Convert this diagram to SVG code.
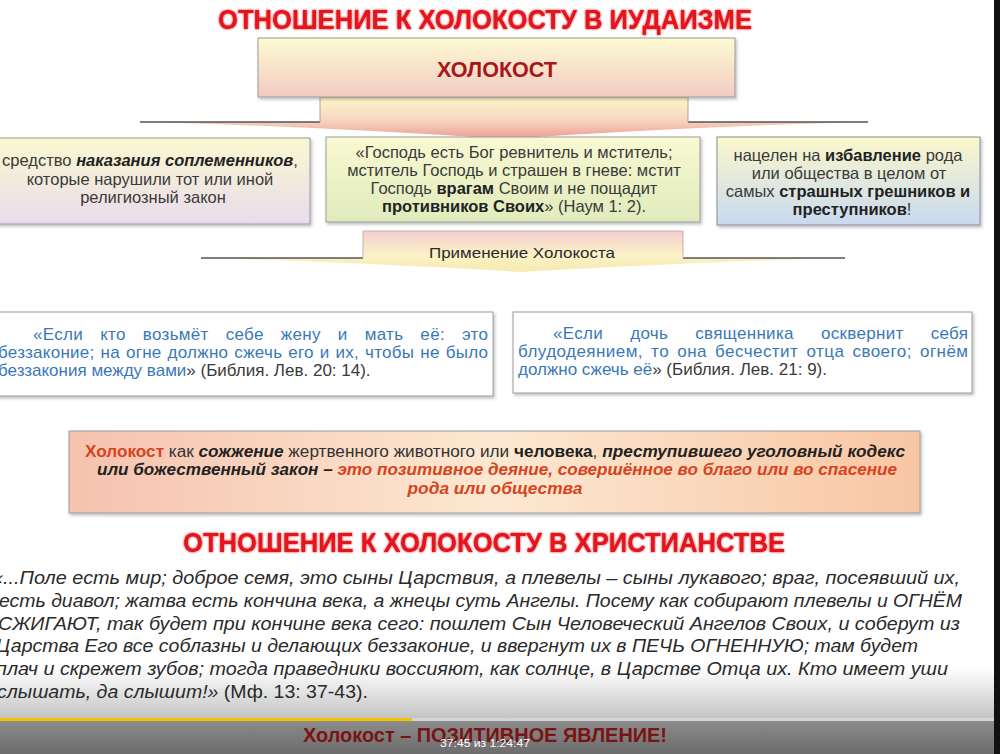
<svg xmlns="http://www.w3.org/2000/svg" width="1000" height="754" viewBox="0 0 1000 754">
<style>
  .ttl{font-family:"Liberation Sans",Arial,sans-serif;font-weight:bold;fill:#e3121b;text-anchor:middle}
  .bx{font-family:"Liberation Sans",Arial,sans-serif;font-size:16.5px;fill:#3a3a3a;text-anchor:middle}
  .b{font-weight:bold;fill:#222}
  .bi{font-weight:bold;font-style:italic;fill:#222}
  .q{font-family:"Liberation Sans",Arial,sans-serif;font-size:17px;fill:#3a78b8}
  .g{fill:#3a3a3a}
  .or{font-family:"Liberation Sans",Arial,sans-serif;font-size:16px;fill:#333;text-anchor:middle}
  .red{fill:#d8431c}
  .p{font-family:"Liberation Sans",Arial,sans-serif;font-size:18px;font-style:italic;fill:#2a2a2a}
  .frame{stroke:#9a9a9a;stroke-width:1}
  .sh{stroke:#555;stroke-width:1.6;fill:none}
</style>
<defs>
  <filter id="shadow" x="-5%" y="-10%" width="110%" height="130%">
    <feDropShadow dx="1.5" dy="2" stdDeviation="1.5" flood-color="#000" flood-opacity="0.25"/>
  </filter>
  <filter id="glow" x="-5%" y="-20%" width="110%" height="140%">
    <feGaussianBlur in="SourceGraphic" stdDeviation="1.2" result="b"/>
    <feMerge><feMergeNode in="b"/><feMergeNode in="SourceGraphic"/></feMerge>
  </filter>
  <linearGradient id="gHolo" x1="0" y1="0" x2="0" y2="1">
    <stop offset="0" stop-color="#fdfbd2"/><stop offset="1" stop-color="#f2cac2"/>
  </linearGradient>
  <linearGradient id="gArr1" x1="0" y1="97" x2="0" y2="139" gradientUnits="userSpaceOnUse">
    <stop offset="0" stop-color="#fdf7c8"/><stop offset="0.55" stop-color="#f7d6be"/><stop offset="1" stop-color="#ec9c94"/>
  </linearGradient>
  <linearGradient id="gArr2" x1="0" y1="231" x2="0" y2="272" gradientUnits="userSpaceOnUse">
    <stop offset="0" stop-color="#f4cfcf"/><stop offset="0.6" stop-color="#fbf2c6"/><stop offset="1" stop-color="#f6eab0"/>
  </linearGradient>
  <linearGradient id="gB1" x1="0" y1="0" x2="0" y2="1">
    <stop offset="0" stop-color="#fbf8d0"/><stop offset="1" stop-color="#e8dcec"/>
  </linearGradient>
  <linearGradient id="gB2" x1="0" y1="0" x2="0" y2="1">
    <stop offset="0" stop-color="#f9f9d2"/><stop offset="1" stop-color="#e0ebbc"/>
  </linearGradient>
  <linearGradient id="gB3" x1="0" y1="0" x2="0" y2="1">
    <stop offset="0" stop-color="#fbf8cc"/><stop offset="1" stop-color="#c9d9ef"/>
  </linearGradient>
  <linearGradient id="gOr" x1="0" y1="0" x2="1" y2="0">
    <stop offset="0" stop-color="#f6c2ae"/><stop offset="0.5" stop-color="#fce8d2"/><stop offset="1" stop-color="#f8c6a4"/>
  </linearGradient>
  <linearGradient id="gFade" x1="0" y1="0" x2="0" y2="1">
    <stop offset="0" stop-color="#c4c4c4" stop-opacity="0"/><stop offset="1" stop-color="#c4c4c4" stop-opacity="1"/>
  </linearGradient>
  <linearGradient id="gBand" x1="0" y1="0" x2="0" y2="1">
    <stop offset="0" stop-color="#8e8e8e"/><stop offset="1" stop-color="#6c6c6c"/>
  </linearGradient>
</defs>

<rect x="0" y="0" width="1000" height="754" fill="#ffffff"/>
<rect id="player-fade" x="0" y="668" width="1000" height="50" fill="url(#gFade)"/>

<g id="title-judaism">
  <text class="ttl" x="485" y="29" font-size="28" textLength="534" lengthAdjust="spacingAndGlyphs" filter="url(#glow)">ОТНОШЕНИЕ К ХОЛОКОСТУ В ИУДАИЗМЕ</text>
</g>

<g id="connectors">
  <g id="arrow-holocaust">
    <path d="M140,122 L320,122 L320,97 L688,97 L688,122 L868,122 Q700,126 505,139 Q310,126 140,122 Z" fill="url(#gArr1)"/>
    <path class="sh" d="M140,122 L320,122 M688,122 L868,122"/>
    <path d="M320,122 L320,97 L688,97 L688,122" fill="none" stroke="#b0a0a0" stroke-width="1"/>
  </g>
  <g id="arrow-application">
    <path d="M201,258 L363,258 L363,231 L683,231 L683,258 L845,258 Q700,262 522,272 Q350,262 201,258 Z" fill="url(#gArr2)"/>
    <path class="sh" d="M201,258 L363,258 M683,258 L845,258"/>
    <path d="M363,258 L363,231 L683,231 L683,258" fill="none" stroke="#c0b0b0" stroke-width="1"/>
    <text x="522" y="258" font-family="'Liberation Sans',Arial,sans-serif" font-size="15" fill="#2a2a2a" text-anchor="middle" textLength="186" lengthAdjust="spacingAndGlyphs">Применение Холокоста</text>
  </g>
</g>

<g id="node-holocaust">
  <rect x="258" y="38" width="477" height="59" fill="url(#gHolo)" class="frame" filter="url(#shadow)"/>
  <text x="497" y="77" font-family="'Liberation Sans',Arial,sans-serif" font-weight="bold" font-size="22" fill="#a8161a" text-anchor="middle" textLength="120" lengthAdjust="spacingAndGlyphs">ХОЛОКОСТ</text>
</g>

<g id="node-punishment">
  <rect x="-4" y="138" width="314" height="86" fill="url(#gB1)" class="frame" filter="url(#shadow)"/>
  <text class="bx" x="150" y="166">средство <tspan class="bi">наказания соплеменников</tspan>,</text>
  <text class="bx" x="150" y="185">которые нарушили тот или иной</text>
  <text class="bx" x="153" y="203">религиозный закон</text>
</g>

<g id="node-nahum">
  <rect x="326" y="137" width="374" height="85" fill="url(#gB2)" class="frame" filter="url(#shadow)"/>
  <text class="bx" x="514" y="158">«Господь есть Бог ревнитель и мститель;</text>
  <text class="bx" x="514" y="176">мститель Господь и страшен в гневе: мстит</text>
  <text class="bx" x="514" y="194">Господь <tspan class="b">врагам</tspan> Своим и не пощадит</text>
  <text class="bx" x="514" y="212"><tspan class="b">противников Своих</tspan>» (Наум 1: 2).</text>
</g>

<g id="node-deliverance">
  <rect x="717" y="137" width="263" height="88" fill="url(#gB3)" stroke="#8a8a9a" stroke-width="1" filter="url(#shadow)"/>
  <text class="bx" x="848" y="161">нацелен на <tspan class="b">избавление</tspan> рода</text>
  <text class="bx" x="849" y="179">или общества в целом от</text>
  <text class="bx" x="848" y="197">самых <tspan class="b">страшных грешников и</tspan></text>
  <text class="bx" x="852" y="215"><tspan class="b">преступников</tspan>!</text>
</g>

<g id="node-lev20">
  <rect x="-4" y="312" width="497" height="84" fill="#ffffff" class="frame" filter="url(#shadow)"/>
  <text class="q" x="33" y="340" word-spacing="12" textLength="455" lengthAdjust="spacing">«Если кто возьмёт себе жену и мать её: это</text>
  <text class="q" x="-2" y="358" word-spacing="1" textLength="490" lengthAdjust="spacing">беззаконие; на огне должно сжечь его и их, чтобы не было</text>
  <text class="q" x="-2" y="376">беззакония между вами<tspan class="g">» (Библия. Лев. 20: 14).</tspan></text>
</g>

<g id="node-lev21">
  <rect x="513" y="312" width="459" height="81" fill="#ffffff" class="frame" filter="url(#shadow)"/>
  <text class="q" x="553" y="339" word-spacing="22" textLength="415" lengthAdjust="spacing">«Если дочь священника осквернит себя</text>
  <text class="q" x="518" y="357" word-spacing="3" textLength="450" lengthAdjust="spacing">блудодеянием, то она бесчестит отца своего; огнём</text>
  <text class="q" x="518" y="375">должно сжечь её<tspan class="g">» (Библия. Лев. 21: 9).</tspan></text>
</g>

<g id="node-conclusion">
  <rect x="69" y="431" width="851" height="82" fill="url(#gOr)" class="frame" filter="url(#shadow)"/>
  <text class="or" x="495" y="457" textLength="820" lengthAdjust="spacingAndGlyphs"><tspan class="red" font-weight="bold">Холокост</tspan> как <tspan class="bi">сожжение</tspan> жертвенного животного или <tspan class="b">человека</tspan>, <tspan class="bi">преступившего уголовный кодекс</tspan></text>
  <text class="or" x="497" y="475" textLength="800" lengthAdjust="spacingAndGlyphs"><tspan class="bi">или божественный закон – </tspan><tspan class="red" font-weight="bold" font-style="italic">это позитивное деяние, совершённое во благо или во спасение</tspan></text>
  <text class="or" x="495" y="494" textLength="175" lengthAdjust="spacingAndGlyphs"><tspan class="red" font-weight="bold" font-style="italic">рода или общества</tspan></text>
</g>

<g id="title-christianity">
  <text class="ttl" x="484" y="552" font-size="28" textLength="602" lengthAdjust="spacingAndGlyphs" filter="url(#glow)">ОТНОШЕНИЕ К ХОЛОКОСТУ В ХРИСТИАНСТВЕ</text>
</g>

<g id="quote-matthew">
  <text class="p" x="-8" y="584" textLength="968" lengthAdjust="spacingAndGlyphs">«...Поле есть мир; доброе семя, это сыны Царствия, а плевелы – сыны лукавого; враг, посеявший их,</text>
  <text class="p" x="-1" y="607" textLength="963" lengthAdjust="spacingAndGlyphs">есть диавол; жатва есть кончина века, а жнецы суть Ангелы. Посему как собирают плевелы и ОГНЁМ</text>
  <text class="p" x="-2" y="630" textLength="962" lengthAdjust="spacingAndGlyphs">СЖИГАЮТ, так будет при кончине века сего: пошлет Сын Человеческий Ангелов Своих, и соберут из</text>
  <text class="p" x="-4" y="652" textLength="922" lengthAdjust="spacingAndGlyphs">Царства Его все соблазны и делающих беззаконие, и ввергнут их в ПЕЧЬ ОГНЕННУЮ; там будет</text>
  <text class="p" x="-4" y="675" textLength="952" lengthAdjust="spacingAndGlyphs">плач и скрежет зубов; тогда праведники воссияют, как солнце, в Царстве Отца их. Кто имеет уши</text>
  <text class="p" x="-3" y="698" textLength="371" lengthAdjust="spacingAndGlyphs">слышать, да слышит!»<tspan font-style="normal"> (Мф. 13: 37-43).</tspan></text>
</g>

<g id="player-overlay">
  <rect x="0" y="718" width="1000" height="36" fill="url(#gBand)"/>
  <rect x="0" y="718" width="1000" height="3" fill="#d4d4d4"/>
  <rect x="0" y="718" width="412" height="3" fill="#f6c400"/>
  <text x="485" y="742" font-family="'Liberation Sans',Arial,sans-serif" font-weight="bold" font-size="21" fill="#7a1414" text-anchor="middle" textLength="364" lengthAdjust="spacingAndGlyphs">Холокост – ПОЗИТИВНОЕ ЯВЛЕНИЕ!</text>
  <text x="485" y="747" font-family="'Liberation Sans',Arial,sans-serif" font-size="11" fill="#ffffff" text-anchor="middle" textLength="90" lengthAdjust="spacingAndGlyphs">37:45 из 1:24:47</text>
  <rect x="994" y="0" width="6" height="754" fill="#111111"/>
</g>
</svg>
